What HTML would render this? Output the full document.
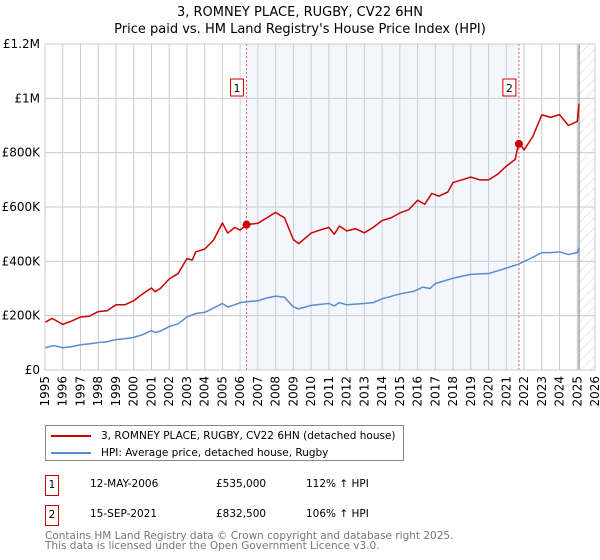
<!DOCTYPE html>
<html><head><meta charset="utf-8"><style>
body{margin:0;background:#fff;font-family:"Liberation Sans","DejaVu Sans",sans-serif}
#wrap{position:relative;width:600px;height:560px;overflow:hidden}
</style></head><body>
<div id="wrap">
<svg id="svg" width="600" height="560" style="position:absolute;left:0;top:0"></svg>
</div>
<script>
const hpiYears=[1995,1995.5,1996,1996.5,1997,1997.5,1998,1998.5,1999,1999.5,2000,2000.5,2001,2001.2,2001.5,2002,2002.5,2003,2003.5,2004,2004.5,2005,2005.3,2005.7,2006,2006.5,2007,2007.5,2008,2008.5,2009,2009.3,2010,2011,2011.3,2011.6,2012,2013,2013.5,2014,2015,2015.8,2016.3,2016.7,2017,2018,2018.5,2019,2020,2021,2021.7,2022.5,2023,2023.5,2024,2024.5,2025,2025.1];
const hpiValues=[82,90,82,86,93,96,101,104,112,115,120,130,145,138,143,160,170,195,208,212,228,245,232,240,248,252,255,265,272,268,232,225,238,245,236,248,240,245,248,262,280,290,305,300,318,338,345,352,355,375,390,415,432,432,435,425,432,450];
const priceYears=[1995,1995.4,1996,1996.5,1997,1997.5,1998,1998.5,1999,1999.5,2000,2000.5,2001,2001.2,2001.5,2002,2002.5,2003,2003.3,2003.5,2004,2004.5,2005,2005.3,2005.7,2006,2006.36,2007,2007.5,2008,2008.5,2009,2009.3,2010,2010.5,2011,2011.3,2011.6,2012,2012.5,2013,2013.5,2014,2014.5,2015,2015.5,2016,2016.4,2016.8,2017.2,2017.7,2018,2018.5,2019,2019.5,2020,2020.5,2021,2021.5,2021.71,2022,2022.5,2023,2023.5,2024,2024.5,2025,2025.1];
const priceValues=[175,190,168,180,195,198,215,218,240,240,255,280,302,288,300,335,355,410,405,435,445,478,541,504,525,515,535,540,560,580,560,480,465,504,515,525,500,530,512,520,505,525,550,560,578,590,625,610,650,640,655,690,700,710,700,700,720,750,775,840,810,860,939,930,940,900,915,980];
const saleYears=[2006.36,2021.71];
const saleValues=[535,832.5];
const saleLabels=["1","2"];
const yTicks=[0,200,400,600,800,1000,1200];
const yTickLabels=["£0","£200K","£400K","£600K","£800K","£1M","£1.2M"];
const xTicks=[];for(let y=1995;y<=2026;y++)xTicks.push(y);

const NS="http://www.w3.org/2000/svg",svg=document.getElementById('svg');
const L=45,R=595,T=44,B=370;
const xS=v=>L+(v-1995)/(2026-1995)*(R-L);
const yS=v=>B-v/1200*(B-T);
function el(tag,attrs,parent){const e=document.createElementNS(NS,tag);for(const k in attrs)e.setAttribute(k,attrs[k]);(parent||svg).appendChild(e);return e;}
let t=el('text',{x:300,y:16,'text-anchor':'middle','font-size':13,'font-family':'DejaVu Sans, sans-serif'});t.textContent="3, ROMNEY PLACE, RUGBY, CV22 6HN";


t=el('text',{x:300,y:33,'text-anchor':'middle','font-size':13,'font-family':'DejaVu Sans, sans-serif'});t.textContent="Price paid vs. HM Land Registry's House Price Index (HPI)";


let sh=el('rect',{x:xS(saleYears[0]),y:T,width:xS(saleYears[1])-xS(saleYears[0]),height:B-T,fill:'#f3f6fd'});


const defs=el('defs',{});const pat=el('pattern',{id:'h',width:7,height:7,patternUnits:'userSpaceOnUse',patternTransform:'rotate(45)'},defs);
el('line',{x1:0,y1:0,x2:0,y2:7,stroke:'#ccc','stroke-width':0.8},pat);
let hx=el('rect',{x:xS(2025.1),y:T,width:R-xS(2025.1),height:B-T,fill:'url(#h)'});


xTicks.forEach(v=>{const g=el('line',{x1:xS(v),x2:xS(v),y1:T,y2:B,stroke:'#ccc','stroke-width':1});


const tx=el('text',{x:0,y:0,'font-size':12,'font-family':'DejaVu Sans, sans-serif','text-anchor':'end',transform:`translate(${xS(v)+4},${B+6}) rotate(-90)`});tx.textContent=v;

});
yTicks.forEach((v,i)=>{const g=el('line',{x1:L,x2:R,y1:yS(v),y2:yS(v),stroke:'#ccc','stroke-width':1});


const tx=el('text',{x:L-5,y:yS(v)+4,'font-size':12,'font-family':'DejaVu Sans, sans-serif','text-anchor':'end'});tx.textContent=yTickLabels[i];

});
let vl=el('line',{x1:xS(2025.1),x2:xS(2025.1),y1:T,y2:B,stroke:'#888','stroke-width':1.2});


saleYears.forEach((v,i)=>{const d=el('line',{x1:xS(v),x2:xS(v),y1:T,y2:B,stroke:'#e06060','stroke-width':1,'stroke-dasharray':'2,2'});


const r=el('rect',{x:xS(v)-16,y:79,width:13,height:17,fill:'#fff',stroke:'#c00'});


const tx=el('text',{x:xS(v)-9.5,y:92,'font-size':11,'text-anchor':'middle','font-family':'DejaVu Sans, sans-serif'});tx.textContent=saleLabels[i];

});
function line(xs,ys,color,name){const p=el('polyline',{points:xs.map((x,i)=>xS(x)+','+yS(ys[i])).join(' '),fill:'none',stroke:color,'stroke-width':1.5,'stroke-linejoin':'round'});

}
line(hpiYears,hpiValues,'#5b8bd0','hpi-line');
line(priceYears,priceValues,'#cc0000','price-line');
saleYears.forEach((v,i)=>{const c=el('circle',{cx:xS(v),cy:yS(saleValues[i]),r:4,fill:'#cc0000'});

});
let fr=el('rect',{x:L,y:T,width:R-L,height:B-T,fill:'none',stroke:'#ccc'});


</script>
<div style="position:absolute;left:45px;top:425px;width:359px;height:36px;border:1px solid #888;box-sizing:border-box;font-family:'DejaVu Sans',sans-serif;font-size:10.5px">
 <div style="position:absolute;left:5px;top:4px;white-space:nowrap"><span style="display:inline-block;width:40px;height:2px;background:#cc0000;vertical-align:middle;margin-right:10px"></span>3, ROMNEY PLACE, RUGBY, CV22 6HN (detached house)</div>
 <div style="position:absolute;left:5px;top:21px;white-space:nowrap"><span style="display:inline-block;width:40px;height:2px;background:#5b8bd0;vertical-align:middle;margin-right:10px"></span>HPI: Average price, detached house, Rugby</div>
</div>
<div style="font-family:'DejaVu Sans',sans-serif;font-size:10.5px">
 <div style="position:absolute;left:45px;top:475px;width:12px;height:19px;border:1px solid #c00;text-align:center;line-height:19px">1</div>
 <div style="position:absolute;left:90px;top:478px">12-MAY-2006</div>
 <div style="position:absolute;left:216px;top:478px">£535,000</div>
 <div style="position:absolute;left:306px;top:478px">112% ↑ HPI</div>
 <div style="position:absolute;left:45px;top:505px;width:12px;height:19px;border:1px solid #c00;text-align:center;line-height:19px">2</div>
 <div style="position:absolute;left:90px;top:508px">15-SEP-2021</div>
 <div style="position:absolute;left:216px;top:508px">£832,500</div>
 <div style="position:absolute;left:306px;top:508px">106% ↑ HPI</div>
</div>
<div style="position:absolute;left:45px;top:531px;font-family:'DejaVu Sans',sans-serif;font-size:10.5px;color:#777;line-height:10px">Contains HM Land Registry data © Crown copyright and database right 2025.<br>This data is licensed under the Open Government Licence v3.0.</div>
</body></html>
